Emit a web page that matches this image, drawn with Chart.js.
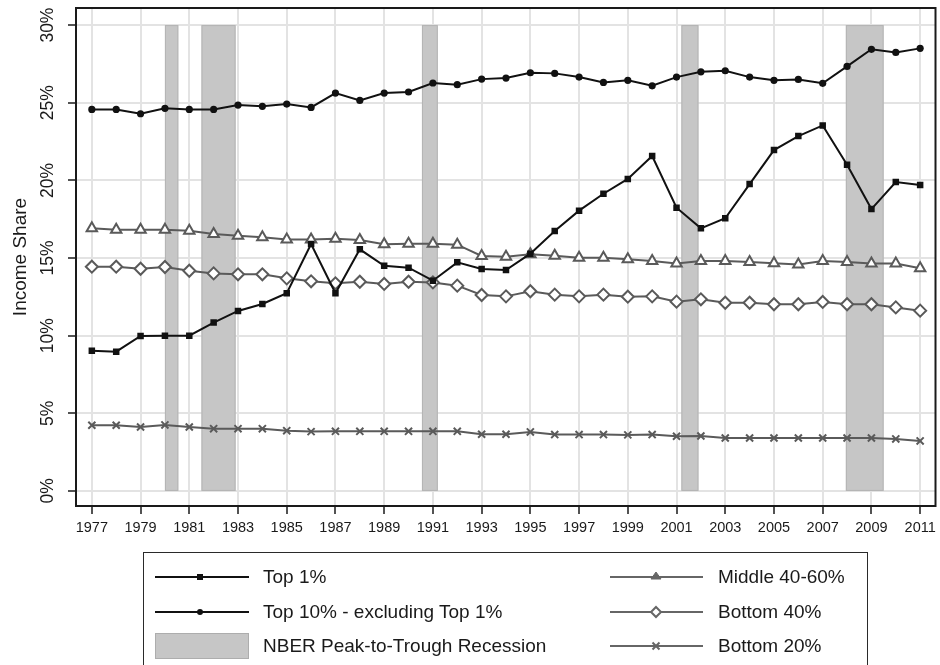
<!DOCTYPE html>
<html><head><meta charset="utf-8">
<script src="https://cdn.jsdelivr.net/npm/chart.js@4.4.1/dist/chart.umd.min.js"></script>
<style>
html,body{margin:0;padding:0;background:#fff;}
#wrap{position:relative;width:940px;height:665px;overflow:hidden;font-family:"Liberation Sans",Arial,Helvetica,sans-serif;color:#1a1a1a;background:#fff;}
#c{position:absolute;left:0;top:0;}
.lg{position:absolute;left:143px;top:552px;width:725px;height:140px;border:1.5px solid #2a2a2a;box-sizing:border-box;}
.it{position:absolute;font-size:19px;line-height:22px;white-space:nowrap;color:#1a1a1a;}
svg.g{position:absolute;overflow:visible;}
</style></head><body>
<div id="wrap">
<canvas id="c" width="940" height="665"></canvas>
<div class="lg"></div>
<svg class="g" style="left:155px;top:567px" width="94" height="20"><line x1="0" y1="10" x2="94" y2="10" stroke="#111" stroke-width="2"/><rect x="42" y="7" width="6" height="6" fill="#111"/></svg>
<div class="it" style="left:263px;top:566px">Top 1%</div>
<svg class="g" style="left:155px;top:601.5px" width="94" height="20"><line x1="0" y1="10" x2="94" y2="10" stroke="#111" stroke-width="2"/><circle cx="45" cy="10" r="3" fill="#111"/></svg>
<div class="it" style="left:263px;top:600.5px">Top 10% - excluding Top 1%</div>
<svg class="g" style="left:155px;top:633px" width="94" height="26"><rect x="0.5" y="0.5" width="93" height="25" fill="#c6c6c6" stroke="#adadad" stroke-width="1"/></svg>
<div class="it" style="left:263px;top:635px">NBER Peak-to-Trough Recession</div>
<svg class="g" style="left:610px;top:567px" width="93" height="20"><line x1="0" y1="10" x2="93" y2="10" stroke="#666" stroke-width="2"/><polygon points="46,5 51,12 41,12" fill="#666" stroke="#666" stroke-width="1"/></svg>
<div class="it" style="left:718px;top:566px">Middle 40-60%</div>
<svg class="g" style="left:610px;top:601.5px" width="93" height="20"><line x1="0" y1="10" x2="93" y2="10" stroke="#666" stroke-width="2"/><polygon points="46,5 51,10 46,15 41,10" fill="#fff" stroke="#666" stroke-width="2"/></svg>
<div class="it" style="left:718px;top:600.5px">Bottom 40%</div>
<svg class="g" style="left:610px;top:636px" width="93" height="20"><line x1="0" y1="10" x2="93" y2="10" stroke="#666" stroke-width="2"/><path d="M42.5 6.5 L49.5 13.5 M49.5 6.5 L42.5 13.5" stroke="#666" stroke-width="2"/></svg>
<div class="it" style="left:718px;top:635px">Bottom 20%</div>
</div>
<script>
const years = [1977,1978,1979,1980,1981,1982,1983,1984,1985,1986,1987,1988,1989,1990,1991,1992,1993,1994,1995,1996,1997,1998,1999,2000,2001,2002,2003,2004,2005,2006,2007,2008,2009,2010,2011];
const top1 = [9.03,8.97,9.98,10.0,10.0,10.84,11.59,12.04,12.73,15.9, 12.73,15.56,14.5,14.38,13.54,14.72,14.29,14.23,15.28,16.74, 18.05,19.14,20.09,21.57,18.24,16.91,17.56,19.76,21.95,22.85, 23.54,21.01,18.15,19.89,19.70];
const top10ex1 = [24.57,24.57,24.29,24.64,24.57,24.57,24.85,24.77,24.91,24.70, 25.62,25.15,25.62,25.69,26.27,26.16,26.52,26.59,26.93,26.89, 26.65,26.31,26.44,26.09,26.65,26.99,27.06,26.65,26.44,26.50, 26.25,27.34,28.44,28.24,28.50];
const middle4060 = [16.91,16.82,16.82,16.82,16.76,16.55,16.44,16.33,16.20,16.20, 16.24,16.16,15.88,15.92,15.92,15.86,15.13,15.08,15.24,15.15, 15.02,15.02,14.92,14.81,14.64,14.81,14.81,14.74,14.66,14.59, 14.81,14.74,14.64,14.64,14.34];
const bottom40 = [14.44,14.44,14.31,14.42,14.18,14.01,13.95,13.95,13.69,13.50, 13.37,13.47,13.33,13.47,13.43,13.22,12.62,12.53,12.86,12.64, 12.53,12.64,12.51,12.53,12.19,12.34,12.12,12.12,12.02,12.02, 12.17,12.02,12.02,11.82,11.61];
const bottom20 = [4.23,4.23,4.12,4.25,4.12,4.01,4.01,4.01,3.88,3.82, 3.84,3.84,3.84,3.84,3.84,3.84,3.65,3.65,3.80,3.63, 3.63,3.63,3.61,3.63,3.52,3.54,3.41,3.41,3.41,3.41, 3.41,3.41,3.41,3.35,3.22];
const recessionStart = [1980.0, 1981.5, 1990.55, 2001.2, 2007.95];
const recessionEnd   = [1980.55, 1982.9, 1991.2, 2001.9, 2009.5];
const xTickYears = [1977,1979,1981,1983,1985,1987,1989,1991,1993,1995,1997,1999,2001,2003,2005,2007,2009,2011];
const yTickValues = [0,5,10,15,20,25,30];

const FONT = '"Liberation Sans", Arial, Helvetica, sans-serif';
const INK = '#1a1a1a';
const GREY = '#5a5a5a';
const pts = arr => years.map((y, i) => ({x: y, y: arr[i]}));

const recessionPlugin = {
  id: 'recessions',
  beforeDatasetsDraw(chart) {
    const {ctx, scales: {x, y}} = chart;
    const yTop = y.getPixelForValue(30), yBot = y.getPixelForValue(0);
    ctx.save();
    recessionStart.forEach((s, i) => {
      const x0 = x.getPixelForValue(s), x1 = x.getPixelForValue(recessionEnd[i]);
      ctx.fillStyle = '#c6c6c6';
      ctx.fillRect(x0, yTop, x1 - x0, yBot - yTop);
      ctx.strokeStyle = '#b4b4b4';
      ctx.lineWidth = 1;
      ctx.strokeRect(x0 + 0.5, yTop + 0.5, x1 - x0 - 1, yBot - yTop - 1);
    });
    ctx.restore();
  }
};
const framePlugin = {
  id: 'frame',
  afterDraw(chart) {
    const {ctx, chartArea: a} = chart;
    ctx.save();
    ctx.strokeStyle = INK;
    ctx.lineWidth = 2;
    ctx.strokeRect(a.left, a.top, a.right - a.left, a.bottom - a.top);
    ctx.restore();
  }
};

const gridOpts = {color: '#e3e3e3', lineWidth: 2, tickColor: INK, tickLength: 8, tickWidth: 1.5};

new Chart(document.getElementById('c'), {
  type: 'line',
  data: {
    datasets: [
      {label: 'Top 1%', data: pts(top1), borderColor: '#111', backgroundColor: '#111', borderWidth: 2,
       pointStyle: 'rect', pointRadius: 4.6, pointBorderWidth: 0},
      {label: 'Top 10% - excluding Top 1%', data: pts(top10ex1), borderColor: '#111', backgroundColor: '#111', borderWidth: 2,
       pointStyle: 'circle', pointRadius: 3.6, pointBorderWidth: 0},
      {label: 'Middle 40-60%', data: pts(middle4060), borderColor: GREY, backgroundColor: '#fff', borderWidth: 2,
       pointStyle: 'triangle', pointRadius: 6, pointBorderWidth: 2},
      {label: 'Bottom 40%', data: pts(bottom40), borderColor: GREY, backgroundColor: '#fff', borderWidth: 2,
       pointStyle: 'rectRot', pointRadius: 6, pointBorderWidth: 2},
      {label: 'Bottom 20%', data: pts(bottom20), borderColor: GREY, backgroundColor: GREY, borderWidth: 2,
       pointStyle: 'crossRot', pointRadius: 5, pointBorderWidth: 2}
    ]
  },
  options: {
    responsive: false, animation: false, devicePixelRatio: 1,
    layout: {autoPadding: false, padding: {left: 0, top: 8, right: 4.5, bottom: 119}},
    plugins: {legend: {display: false}, tooltip: {enabled: false}},
    elements: {line: {tension: 0, fill: false}},
    scales: {
      x: {
        type: 'linear', min: 1976.35, max: 2011.63,
        afterBuildTicks: s => { s.ticks = xTickYears.map(v => ({value: v})); },
        afterFit: s => { s.height = 40; s.paddingLeft = 0; s.paddingRight = 0; },
        grid: gridOpts, border: {display: false},
        ticks: {callback: v => String(v), font: {family: FONT, size: 14.5}, color: INK, padding: 5, maxRotation: 0, autoSkip: false}
      },
      y: {
        type: 'linear', min: -0.97, max: 31.1,
        afterBuildTicks: s => { s.ticks = yTickValues.map(v => ({value: v})); },
        afterFit: s => { s.width = 76; s.paddingTop = 0; s.paddingBottom = 0; },
        grid: gridOpts, border: {display: false},
        ticks: {callback: v => v + '%', font: {family: FONT, size: 17.5}, color: INK, minRotation: 90, maxRotation: 90,
                crossAlign: 'center', padding: 2, autoSkip: false},
        title: {display: true, text: 'Income Share', font: {family: FONT, size: 19}, color: INK, padding: {top: 9, bottom: 0}}
      }
    }
  },
  plugins: [recessionPlugin, framePlugin]
});
</script>
</body></html>
